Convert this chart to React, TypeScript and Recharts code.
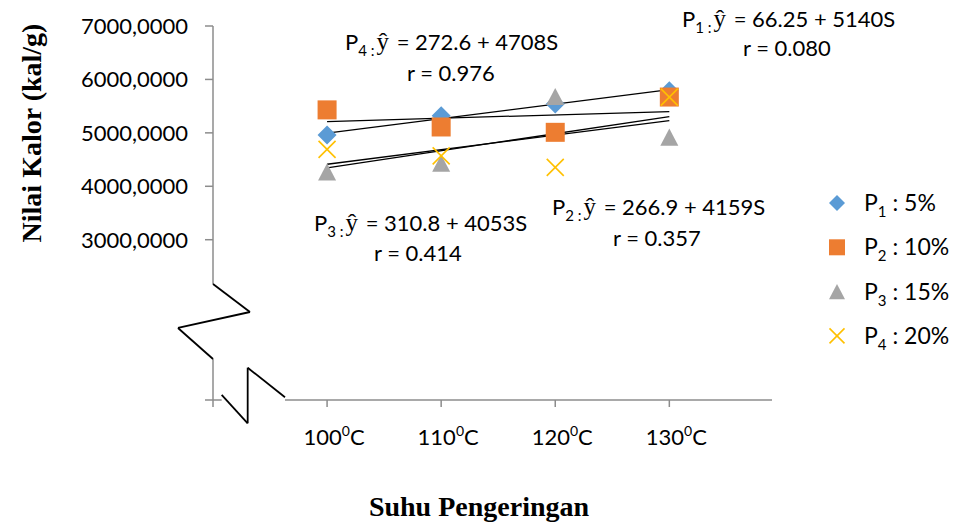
import React from 'react';
import { ComposedChart, Scatter, XAxis, YAxis, ReferenceLine } from 'recharts';

// suhu pengeringan (°C)
const temps = [100, 110, 120, 130];
// nilai kalor per konsentrasi perekat
const p1Values = [4960, 5320, 5540, 5790];
const p2Values = [5430, 5110, 5010, 5670];
const p3Values = [4270, 4430, 5680, 4920];
const p4Values = [4690, 4570, 4355, 5670];

const seriesIdx = ['1', '2', '3', '4'];
const seriesPct = ['5%', '10%', '15%', '20%'];
const equations = ['66.25 + 5140S', '266.9 + 4159S', '310.8 + 4053S', '272.6 + 4708S'];
const rValues = ['0.080', '0.357', '0.414', '0.976'];

const yTicks = [0, 3000, 4000, 5000, 6000, 7000];
const xTicks = [90, 100, 110, 120, 130];

// axis break marks, in data units
const yBreak = [
  { x: 90, y: 2171 },
  { x: 93.24, y: 1647 },
  { x: 86.93, y: 1348 },
  { x: 90, y: 767 },
];
const xBreak = [
  { x: 90.76, y: 94 },
  { x: 93.04, y: -436 },
  { x: 93.04, y: 605 },
  { x: 96.31, y: 51 },
];

const W = 957;
const H = 527;
const AXIS = '#8c8c8c';
const COLORS = ['#5B9BD5', '#ED7D31', '#A5A5A5', '#FFC000'];
const FONT = 'Lato, "Open Sans", sans-serif';

const toPoints = (vals: number[]) => temps.map((t, i) => ({ x: t, y: vals[i] }));

// least squares trend line between first and last temperature
const trend = (vals: number[]) => {
  const n = temps.length;
  const mx = temps.reduce((a, b) => a + b, 0) / n;
  const my = vals.reduce((a, b) => a + b, 0) / n;
  let sxy = 0;
  let sxx = 0;
  temps.forEach((t, i) => {
    sxy += (t - mx) * (vals[i] - my);
    sxx += (t - mx) * (t - mx);
  });
  const b = sxy / sxx;
  const a = my - b * mx;
  const x0 = temps[0];
  const x1 = temps[n - 1];
  return [
    { x: x0, y: a + b * x0 },
    { x: x1, y: a + b * x1 },
  ];
};

const allValues = [p1Values, p2Values, p3Values, p4Values];

const Diamond = ({ cx, cy, r = 9.5 }: any) => (
  <path d={`M${cx},${cy - r}L${cx + r},${cy}L${cx},${cy + r}L${cx - r},${cy}Z`} fill={COLORS[0]} />
);
const Square = ({ cx, cy, r = 9.5 }: any) => (
  <rect x={cx - r} y={cy - r} width={r * 2} height={r * 2} fill={COLORS[1]} />
);
const Triangle = ({ cx, cy, r = 9 }: any) => (
  <path d={`M${cx},${cy - r * 0.95}L${cx + r},${cy + r * 0.95}L${cx - r},${cy + r * 0.95}Z`} fill={COLORS[2]} />
);
const XMark = ({ cx, cy, r = 8.5 }: any) => (
  <g stroke={COLORS[3]} strokeWidth={1.6}>
    <line x1={cx - r} y1={cy - r} x2={cx + r} y2={cy + r} />
    <line x1={cx - r} y1={cy + r} x2={cx + r} y2={cy - r} />
  </g>
);
const SHAPES = [Diamond, Square, Triangle, XMark];

const YTick = ({ x, y, payload }: any) => {
  if (payload.value === 0) return null;
  return (
    <text x={x} y={y} dy="0.36em" textAnchor="end" fontFamily={FONT} fontSize={22} fill="#000">
      {payload.value.toFixed(4).replace('.', ',')}
    </text>
  );
};

const XTick = ({ x, y, payload }: any) => {
  if (payload.value === 90) return null;
  return (
    <text x={x + 7} y={y + 38} textAnchor="middle" fontFamily={FONT} fontSize={22} fill="#000">
      {payload.value}
      <tspan fontSize={14} dy={-9}>0</tspan>
      <tspan dy={9}>C</tspan>
    </text>
  );
};

const Equation = ({ x, y, i }: any) => (
  <g fontFamily={FONT} fill="#000">
    <text x={x} y={y} fontSize={22}>
      P
      <tspan fontSize={15} dy={6}>{seriesIdx[i]} :</tspan>
      <tspan dy={-6} dx={2} fontFamily='"Liberation Serif", serif' fontSize={25}>ŷ</tspan>
      <tspan dx={2}> = {equations[i]}</tspan>
    </text>
  </g>
);

const RText = ({ x, y, i }: any) => (
  <text x={x} y={y} fontFamily={FONT} fontSize={22} fill="#000">
    r = {rValues[i]}
  </text>
);

const segs = (pts: { x: number; y: number }[]) =>
  pts.slice(1).map((p, i) => [pts[i], p]);

export default function App() {
  return (
    <div style={{ position: 'absolute', left: 0, top: 0, width: W, height: H, background: '#fff' }}>
      <ComposedChart width={W} height={H} margin={{ top: 26, right: 185, left: 0, bottom: 0 }}>
        <XAxis
          type="number"
          dataKey="x"
          domain={[90, 139]}
          ticks={xTicks}
          allowDataOverflow
          axisLine={false}
          tickLine={{ stroke: AXIS, strokeWidth: 1.5 }}
          tickSize={7}
          tickMargin={0}
          height={127}
          tick={<XTick />}
        />
        <YAxis
          type="number"
          dataKey="y"
          domain={[0, 7000]}
          ticks={yTicks}
          allowDataOverflow
          axisLine={false}
          tickLine={{ stroke: AXIS, strokeWidth: 1.5 }}
          tickSize={8}
          tickMargin={17}
          width={213}
          tick={<YTick />}
        />
        {/* broken axis lines */}
        <ReferenceLine segment={[{ x: 90, y: 7000 }, yBreak[0]]} stroke={AXIS} strokeWidth={1.5} ifOverflow="visible" />
        <ReferenceLine segment={[yBreak[3], { x: 90, y: 0 }]} stroke={AXIS} strokeWidth={1.5} ifOverflow="visible" />
        <ReferenceLine segment={[{ x: 90, y: 0 }, { x: xBreak[0].x, y: 0 }]} stroke={AXIS} strokeWidth={1.5} ifOverflow="visible" />
        <ReferenceLine segment={[{ x: xBreak[3].x, y: 0 }, { x: 139, y: 0 }]} stroke={AXIS} strokeWidth={1.5} ifOverflow="visible" />
        {[...segs(yBreak), ...segs(xBreak)].map((s, i) => (
          <ReferenceLine key={`brk-${i}`} segment={s} stroke="#000" strokeWidth={1.8} ifOverflow="visible" />
        ))}
        {allValues.map((vals, i) => (
          <Scatter
            key={`s-${i}`}
            name={`P${seriesIdx[i]} : ${seriesPct[i]}`}
            data={toPoints(vals)}
            shape={SHAPES[i]}
            isAnimationActive={false}
          />
        ))}
        {allValues.map((vals, i) => (
          <ReferenceLine key={`t-${i}`} segment={trend(vals)} stroke="#000" strokeWidth={1.3} ifOverflow="visible" />
        ))}
      </ComposedChart>
      <svg width={W} height={H} style={{ position: 'absolute', left: 0, top: 0, pointerEvents: 'none' }}>
        <Equation x={682} y={27} i={0} />
        <RText x={743} y={56} i={0} />
        <Equation x={552} y={215} i={1} />
        <RText x={613} y={246} i={1} />
        <Equation x={314} y={231} i={2} />
        <RText x={374} y={261} i={2} />
        <Equation x={345} y={50} i={3} />
        <RText x={407} y={81} i={3} />
        {seriesIdx.map((idx, i) => {
          const Shape = SHAPES[i];
          const cy = 203 + i * 44.3;
          return (
            <g key={`lg-${i}`}>
              <Shape cx={837} cy={cy} r={i === 3 ? 7.5 : 8} />
              <text x={864} y={cy + 8} fontFamily={FONT} fontSize={23} fill="#000">
                P
                <tspan fontSize={15} dy={6}>{idx}</tspan>
                <tspan dy={-6}> : {seriesPct[i]}</tspan>
              </text>
            </g>
          );
        })}
        <text
          x={41}
          y={133}
          transform="rotate(-90, 41, 133)"
          textAnchor="middle"
          fontFamily='"Liberation Serif", "Times New Roman", serif'
          fontWeight="bold"
          fontSize={28}
          fill="#000"
        >
          Nilai Kalor (kal/g)
        </text>
        <text
          x={479}
          y={516}
          textAnchor="middle"
          fontFamily='"Liberation Serif", "Times New Roman", serif'
          fontWeight="bold"
          fontSize={28}
          fill="#000"
        >
          Suhu Pengeringan
        </text>
      </svg>
    </div>
  );
}
